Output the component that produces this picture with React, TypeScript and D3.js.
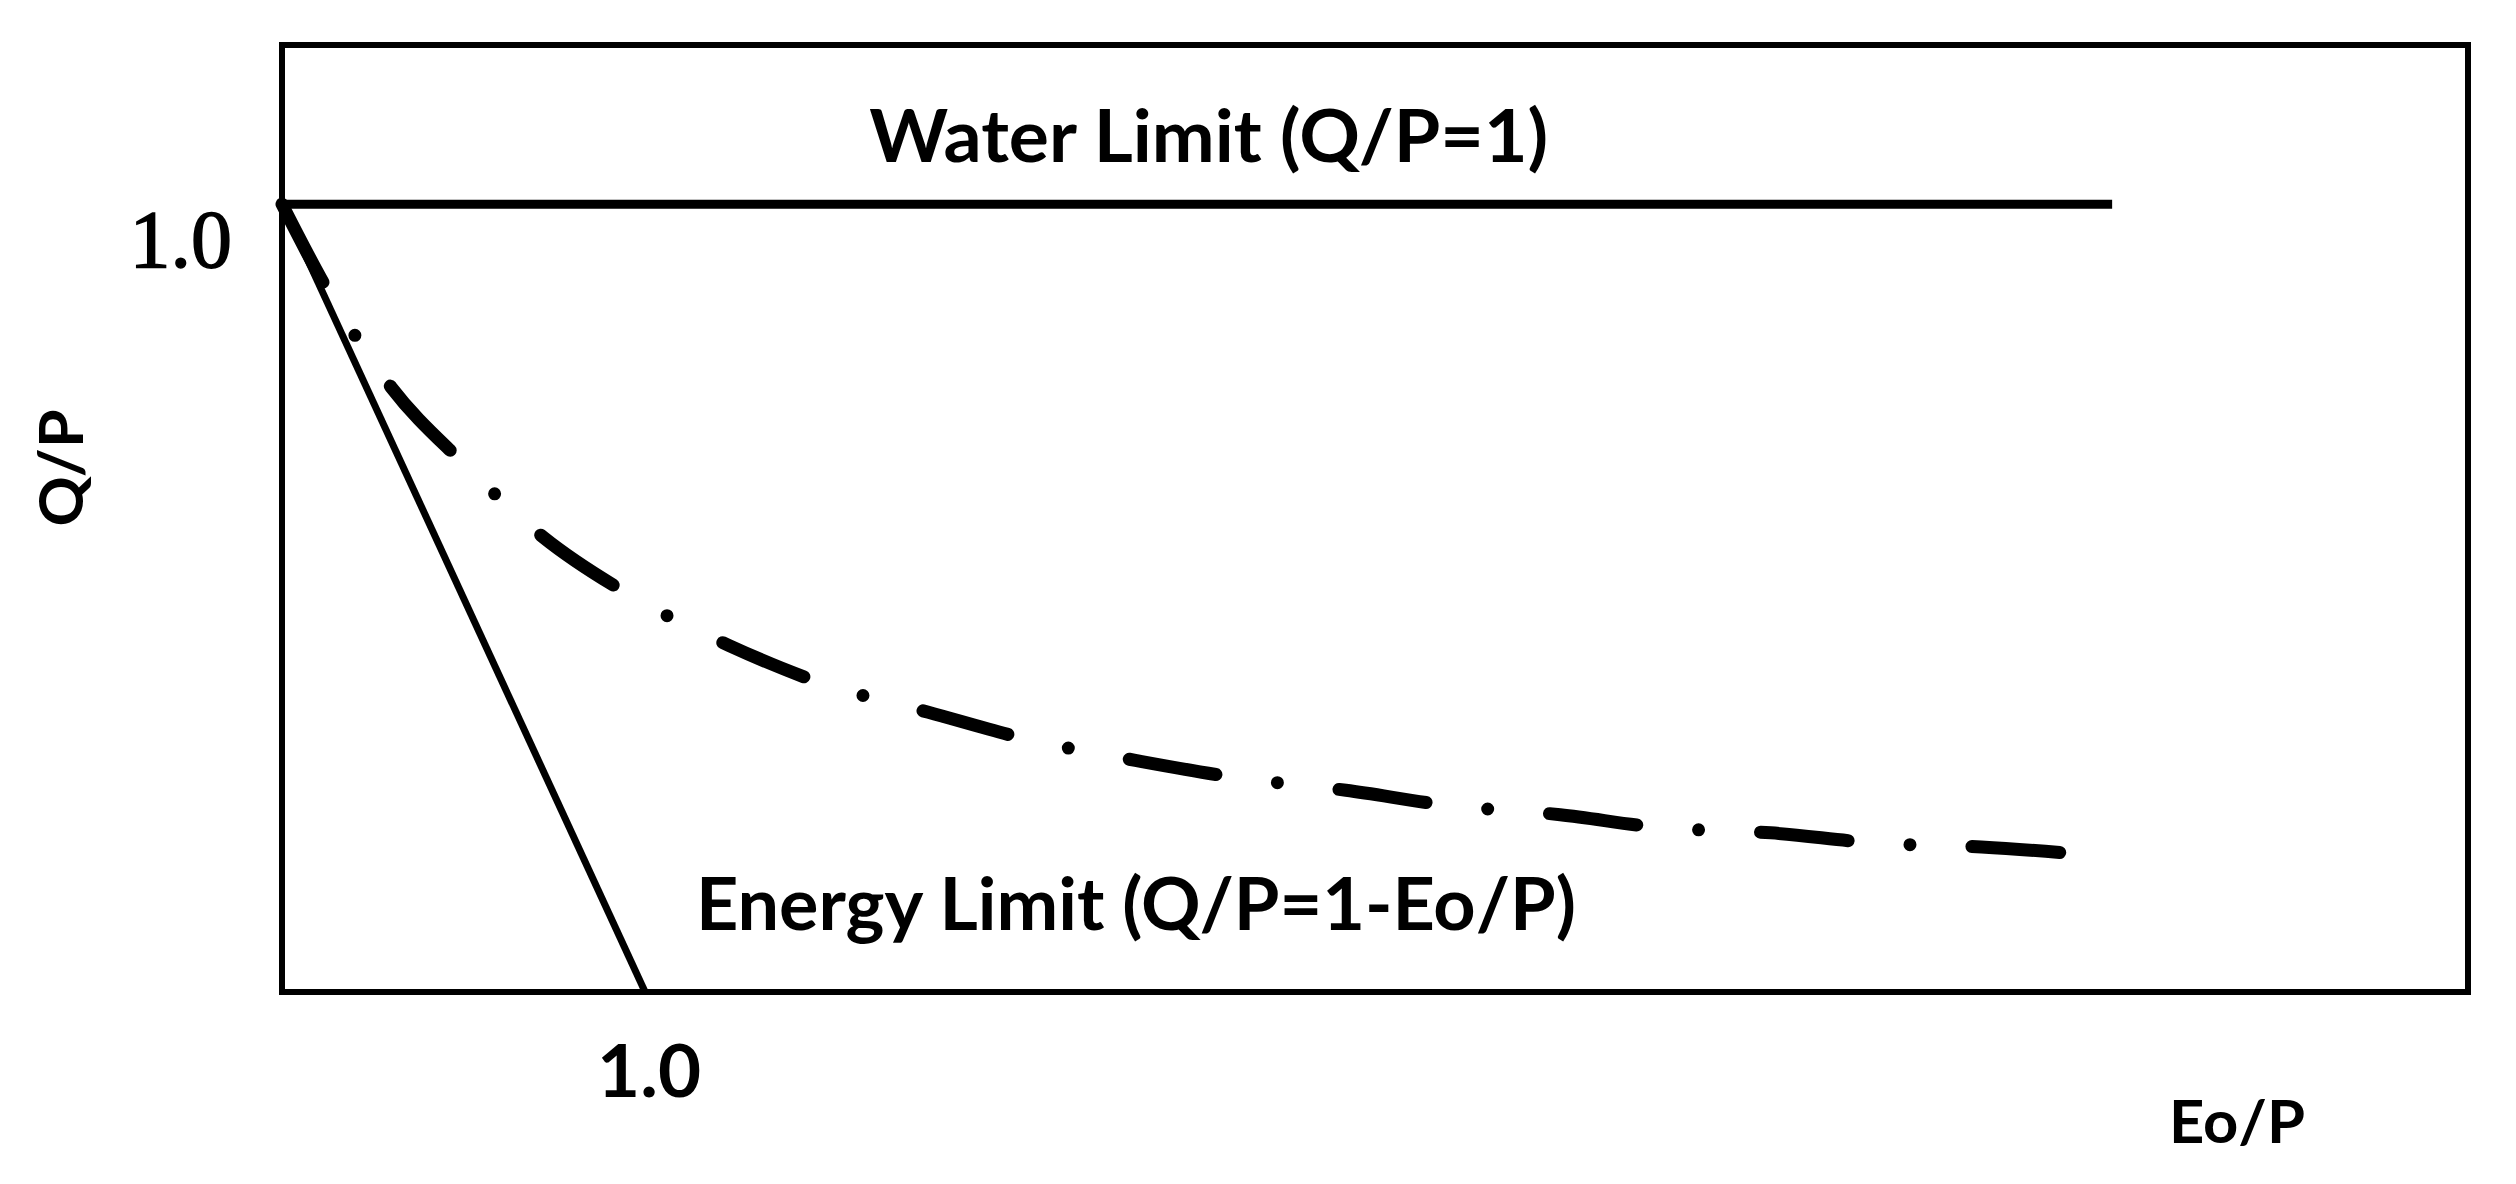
import React, { useRef, useEffect } from 'react';
import * as d3 from 'd3';

type Pt = { x: number; y: number };

// Budyko-type curve (Eo/P vs Q/P)
const curveEoP = [0, 0.13, 0.3, 0.5, 0.72, 0.95, 1.23, 1.48, 1.78, 2.06, 2.35, 2.63, 2.93, 3.21, 3.52, 3.79, 4.1, 4.39, 4.68, 4.98];
const curveQP = [1.0, 0.887, 0.768, 0.671, 0.577, 0.506, 0.44, 0.393, 0.355, 0.32, 0.294, 0.272, 0.256, 0.237, 0.225, 0.209, 0.202, 0.189, 0.184, 0.174];

// limits
const waterEoP = [0, 5.04];
const waterQP = [1, 1];
const energyEoP = [0, 1];
const energyQP = [1, 0];

const xTicks = [1.0];
const yTicks = [1.0];

const waterLabel = 'Water Limit (Q/P=1)';
const energyLabel = 'Energy Limit (Q/P=1-Eo/P)';
const xLabel = 'Eo/P';
const yLabel = 'Q/P';

const zip = (xs: number[], ys: number[]): Pt[] => xs.map((x, i) => ({ x, y: ys[i] }));

const Chart: React.FC = () => {
  const svgRef = useRef<SVGSVGElement | null>(null);

  useEffect(() => {
    if (!svgRef.current) return;
    const svg = d3.select(svgRef.current);
    svg.selectAll('*').remove();

    const width = 2516;
    const height = 1184;
    const margin = { top: 45, right: 48, bottom: 192, left: 282 };
    const sans = 'Lato, "Open Sans", sans-serif';

    const x = d3.scaleLinear().domain([0, 6.02]).range([margin.left, width - margin.right]);
    const y = d3.scaleLinear().domain([0, 1.202]).range([height - margin.bottom, margin.top]);

    svg.append('rect').attr('width', width).attr('height', height).attr('fill', '#fff');

    const line = d3.line<Pt>().x(d => x(d.x)).y(d => y(d.y));

    // dash-dot curve
    svg.append('path')
      .datum(zip(curveEoP, curveQP))
      .attr('fill', 'none')
      .attr('stroke', '#000')
      .attr('stroke-width', 13)
      .attr('stroke-linecap', 'round')
      .attr('stroke-dasharray', '88 62 0 62')
      .attr('d', line.curve(d3.curveMonotoneX));

    line.curve(d3.curveLinear);

    svg.append('path')
      .datum(zip(waterEoP, waterQP))
      .attr('fill', 'none')
      .attr('stroke', '#000')
      .attr('stroke-width', 9)
      .attr('d', line);

    svg.append('path')
      .datum(zip(energyEoP, energyQP))
      .attr('fill', 'none')
      .attr('stroke', '#000')
      .attr('stroke-width', 7)
      .attr('d', line);

    // frame
    svg.append('rect')
      .attr('x', x(0))
      .attr('y', y(1.202))
      .attr('width', x(6.02) - x(0))
      .attr('height', y(0) - y(1.202))
      .attr('fill', 'none')
      .attr('stroke', '#000')
      .attr('stroke-width', 6);

    // tick labels
    svg.append('g').selectAll('text')
      .data(yTicks)
      .join('text')
      .attr('x', x(0) - 50)
      .attr('y', d => y(d) + 63)
      .attr('text-anchor', 'end')
      .attr('font-family', '"Liberation Serif", serif')
      .attr('font-size', 82)
      .attr('stroke', '#000')
      .attr('stroke-width', 1.5)
      .text(d => d.toFixed(1));

    svg.append('g').selectAll('text')
      .data(xTicks)
      .join('text')
      .attr('x', d => x(d) + 4)
      .attr('y', y(0) + 105)
      .attr('text-anchor', 'middle')
      .attr('font-family', sans)
      .attr('font-weight', 700)
      .attr('font-size', 72)
      .attr('textLength', 104)
      .attr('lengthAdjust', 'spacingAndGlyphs')
      .text(d => d.toFixed(1));

    // annotations
    svg.append('text')
      .attr('x', x(1.617))
      .attr('y', y(1.053))
      .attr('font-family', sans)
      .attr('font-weight', 700)
      .attr('font-size', 72)
      .attr('textLength', 679)
      .attr('lengthAdjust', 'spacingAndGlyphs')
      .text(waterLabel);

    svg.append('text')
      .attr('x', x(1.14))
      .attr('y', y(0.079))
      .attr('font-family', sans)
      .attr('font-weight', 700)
      .attr('font-size', 72)
      .attr('textLength', 880)
      .attr('lengthAdjust', 'spacingAndGlyphs')
      .text(energyLabel);

    // axis titles
    svg.append('text')
      .attr('x', 2169)
      .attr('y', 1143)
      .attr('font-family', sans)
      .attr('font-weight', 700)
      .attr('font-size', 60)
      .attr('textLength', 136)
      .attr('lengthAdjust', 'spacingAndGlyphs')
      .text(xLabel);

    svg.append('text')
      .attr('transform', 'translate(83,468) rotate(-90)')
      .attr('text-anchor', 'middle')
      .attr('font-family', sans)
      .attr('font-weight', 700)
      .attr('font-size', 62)
      .attr('textLength', 117)
      .attr('lengthAdjust', 'spacingAndGlyphs')
      .text(yLabel);
  }, []);

  return (
    <svg
      ref={svgRef}
      width={2516}
      height={1184}
      style={{ position: 'absolute', left: 0, top: 0, display: 'block' }}
    />
  );
};

export default function App() {
  return <Chart />;
}
